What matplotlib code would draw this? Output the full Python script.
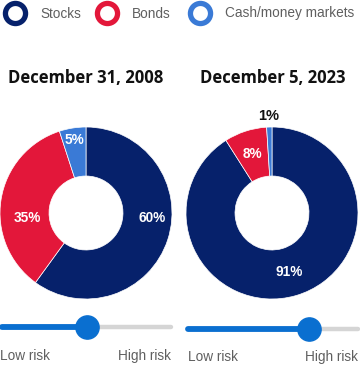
import numpy as np
import matplotlib
matplotlib.use("Agg")
import matplotlib.pyplot as plt

# data
categories = ["Stocks", "Bonds", "Cash/money markets"]
dates = ["December 31, 2008", "December 5, 2023"]
alloc_2008 = [60, 35, 5]
alloc_2023 = [91, 8, 1]
risk_position = [0.50, 0.71]          # slider knob, 0 = low risk, 1 = high risk
risk_labels = ["Low risk", "High risk"]

COLORS = ["#06216b", "#e3173a", "#3a7ad6"]
SLIDER_BLUE = "#0a6fd0"
TRACK_GREY = "#d5d5d5"
TEXT_GREY = "#5f5f5f"

W, H = 360, 367
fig = plt.figure(figsize=(W / 100, H / 100), dpi=100)


def px_box(x0, y0, x1, y1):
    """pixel box (top-left origin) -> figure fraction rect"""
    return [x0 / W, (H - y1) / H, (x1 - x0) / W, (y1 - y0) / H]


# legend
leg = fig.add_axes([0, 0, 1, 1])
leg.set_xlim(0, W)
leg.set_ylim(H, 0)
leg.axis("off")
leg_x = [15, 107, 200]
for x, name, c in zip(leg_x, categories, COLORS):
    leg.scatter([x], [13], s=210, facecolor="white", edgecolor=c, linewidth=3.8)
    leg.text(x + 25, 13.5, name, fontsize=9.8, color=TEXT_GREY,
             family="Liberation Sans", va="center", ha="left")

# titles
for cx, d in zip([86, 273], dates):
    leg.text(cx, 78, d, fontsize=12, fontweight="bold", family="Open Sans",
             ha="center", va="center", color="#111111")

# donuts
pie_boxes = [px_box(0, 127, 172, 299), px_box(186, 127, 358, 299)]
label_pos = [
    [(0.77, -0.06), (-0.68, -0.06), (-0.14, 0.85)],
    None,
]
for box, vals, lp in zip(pie_boxes, [alloc_2008, alloc_2023], label_pos):
    ax = fig.add_axes(box)
    wedges, _, autotexts = ax.pie(
        vals, colors=COLORS, startangle=90, counterclock=False,
        wedgeprops=dict(width=0.57, edgecolor="white", linewidth=0.5),
        autopct=lambda p: f"{p:.0f}%", pctdistance=0.72,
        textprops=dict(color="white", fontweight="bold", fontsize=9.8,
                       family="Liberation Sans"))
    for i, (w, t) in enumerate(zip(wedges, autotexts)):
        if lp is not None:
            t.set_position(lp[i])
        elif vals[i] < 3:
            mid = np.deg2rad((w.theta1 + w.theta2) / 2)
            t.set_position((1.13 * np.cos(mid), 1.13 * np.sin(mid)))
            t.set_color("#111111")
            t.set_fontsize(10.5)
        t.set_ha("center")
        t.set_va("center")
    ax.set_xlim(-1, 1)
    ax.set_ylim(-1, 1)
    ax.set_aspect("equal")

# risk sliders
slider_boxes = [px_box(2, 317, 171, 337), px_box(188, 319, 358, 339)]
for box, pos in zip(slider_boxes, risk_position):
    sx = fig.add_axes(box)
    sx.set_xlim(0, 1)
    sx.set_ylim(-1, 1)
    sx.axis("off")
    sx.plot([0, 1], [0, 0], color=TRACK_GREY, lw=3.2,
            solid_capstyle="round", clip_on=False)
    sx.plot([0, pos], [0, 0], color=SLIDER_BLUE, lw=4.2,
            solid_capstyle="round", clip_on=False)
    sx.scatter([pos], [0], s=280, color=SLIDER_BLUE, zorder=3, clip_on=False)

for (x0, x1, y) in [(0, 171, 356), (188, 358, 357)]:
    leg.text(x0, y, risk_labels[0], fontsize=9.8, color=TEXT_GREY,
             family="Liberation Sans", ha="left", va="center")
    leg.text(x1, y, risk_labels[1], fontsize=9.8, color=TEXT_GREY,
             family="Liberation Sans", ha="right", va="center")

fig.savefig("out.png", dpi=100)
